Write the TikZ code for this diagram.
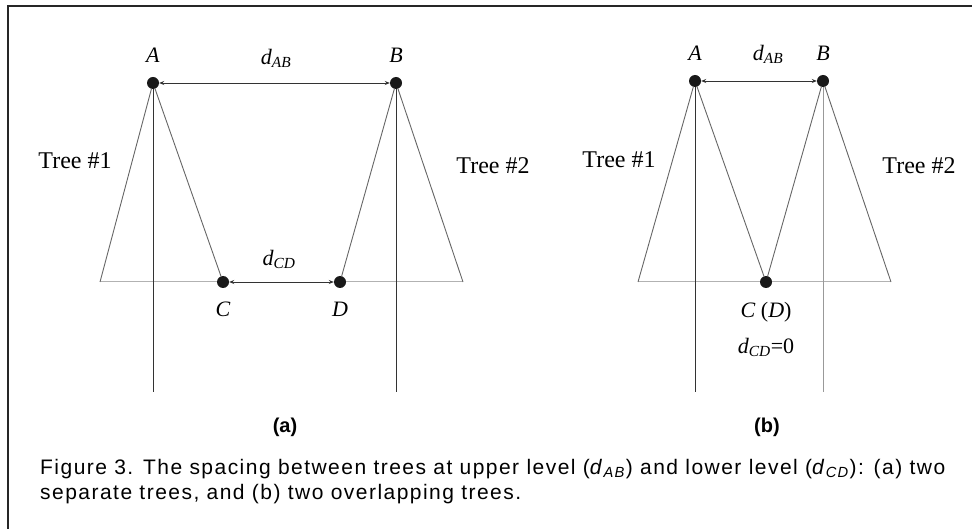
\documentclass[tikz,border=0pt]{standalone}
\usepackage{fontspec}
\setmainfont{Liberation Serif}
\setsansfont{Liberation Sans}
\newfontfamily\capfont[LetterSpace=7]{Liberation Sans}
\usetikzlibrary{arrows.meta,positioning}
\newcommand{\dist}[1]{\textit{d}\textsubscript{\textit{#1}}}

\begin{document}
\begin{tikzpicture}[
  x=1pt, y=-1pt,
  frame/.style={draw=black!85, line width=2pt},
  dot/.style={circle, fill=black!90, inner sep=0pt, minimum size=12pt},
  stem/.style={draw=black!80, line width=1pt},
  limb/.style={draw=black!60, line width=0.9pt},
  base/.style={draw=black!30, line width=1pt},
  span/.style={{Stealth[length=5pt,width=4pt]}-{Stealth[length=5pt,width=4pt]}, black!80, line width=0.7pt},
  lbl/.style={font=\fontsize{22}{24}\selectfont, inner sep=0pt},
  tree/.style={font=\fontsize{24}{26}\selectfont, inner sep=0pt},
  sub/.style={font=\sffamily\bfseries\fontsize{20}{22}\selectfont, inner sep=0pt},
  captext/.style={font=\capfont\fontsize{21}{25}\selectfont, align=left, inner sep=0pt},
]
\useasboundingbox (0,0) rectangle (972,529);
\draw[frame] (972,6) -- (8,6) -- (8,529);

%% ---- (a) two separate trees ----
\coordinate (L1) at (100,282);
\coordinate (R1) at (463,282);
\coordinate (A1s) at (153,392);
\coordinate (B1s) at (396,392);
\node[dot] (A1) at (153,83) {};
\node[dot] (B1) at (396,83) {};
\node[dot] (C1) at (223,282) {};
\node[dot] (D1) at (340,282) {};

\draw[base] (L1) -- (C1);
\draw[base] (D1) -- (R1);
\draw[limb] (A1) -- (L1);
\draw[limb] (A1) -- (C1);
\draw[limb] (B1) -- (D1);
\draw[limb] (B1) -- (R1);
\draw[stem] (A1) -- (A1s);
\draw[stem] (B1) -- (B1s);
\draw[span] (A1) -- (B1);
\draw[span] (C1) -- (D1);

\node[lbl, above=14pt of A1] (lA1) {\textit{A}};
\node[lbl, above=14pt of B1] (lB1) {\textit{B}};
\node[lbl] (lAB1) at (276,58) {\dist{AB}};
\node[lbl] (lCD1) at (279,259) {\dist{CD}};
\node[lbl, below=14pt of C1] (lC1) {\textit{C}};
\node[lbl, below=14pt of D1] (lD1) {\textit{D}};
\node[tree] (t11) at (75,161) {Tree \#1};
\node[tree] (t12) at (493,166) {Tree \#2};
\node[sub] (sa) at (285,427) {(a)};

%% ---- (b) two overlapping trees ----
\coordinate (L2) at (638,282);
\coordinate (R2) at (891,282);
\coordinate (A2s) at (695,392);
\coordinate (B2s) at (823,392);
\node[dot] (A2) at (695,81) {};
\node[dot] (B2) at (823,81) {};
\node[dot] (C2) at (766,282) {};

\draw[base] (L2) -- (C2);
\draw[base] (C2) -- (R2);
\draw[limb] (A2) -- (L2);
\draw[limb] (A2) -- (C2);
\draw[limb] (B2) -- (C2);
\draw[limb] (B2) -- (R2);
\draw[stem] (A2) -- (A2s);
\draw[stem, draw=black!40] (B2) -- (B2s);
\draw[span] (A2) -- (B2);

\node[lbl, above=14pt of A2] (lA2) {\textit{A}};
\node[lbl, above=14pt of B2] (lB2) {\textit{B}};
\node[lbl] (lAB2) at (768,54) {\dist{AB}};
\node[lbl, below=14pt of C2] (lC2) {\textit{C} (\textit{D})};
\node[lbl, below=15pt of lC2] (lCD2) {\dist{CD}=0};
\node[tree] (t21) at (619,160) {Tree \#1};
\node[tree] (t22) at (919,166) {Tree \#2};
\node[sub] (sb) at (767,427) {(b)};

%% ---- caption ----
\node[captext, anchor=north west] (caption) at (40,459)
  {Figure 3. The spacing between trees at upper level (\dist{AB}) and lower level (\dist{CD}): (a) two\\
   separate trees, and (b) two overlapping trees.};
\end{tikzpicture}
\end{document}
